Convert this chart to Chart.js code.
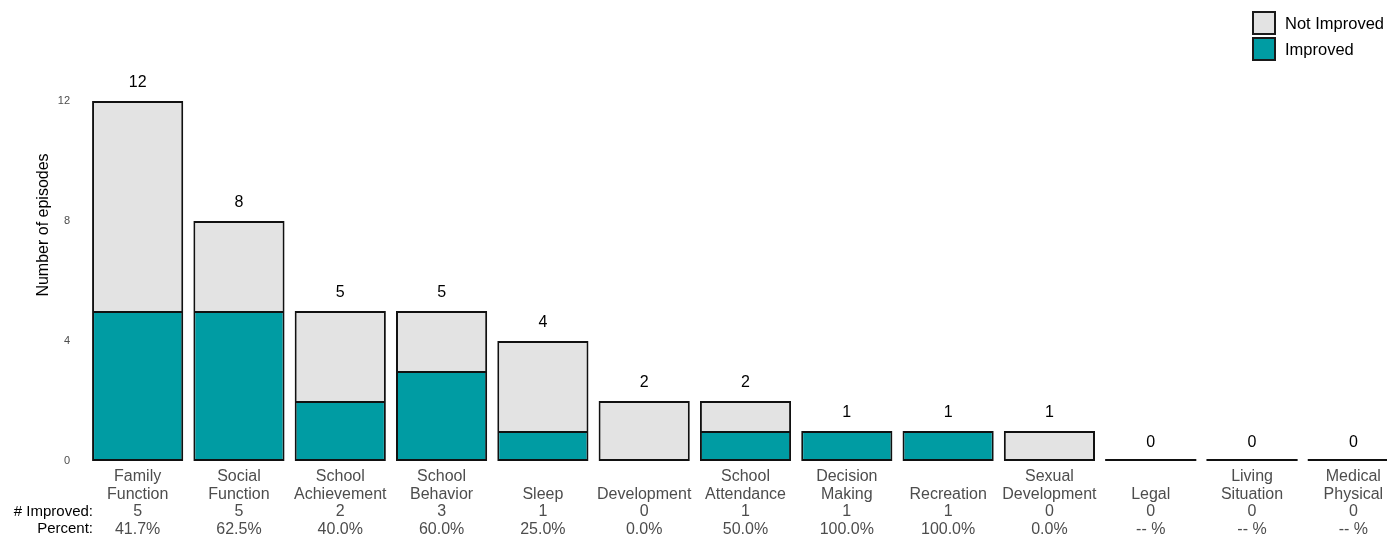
<!DOCTYPE html>
<html>
<head>
<meta charset="utf-8">
<script src="https://cdn.jsdelivr.net/npm/chart.js@4.4.1/dist/chart.umd.min.js"></script>
<style>
  html, body { margin: 0; padding: 0; background: #fff; overflow: hidden; width: 1387px; height: 540px; }
  #wrap { position: absolute; left: 0; top: 0; width: 1410px; height: 540px; }
  #legend { position: absolute; left: 1252px; top: 10px; font-family: "Liberation Sans", Arial, sans-serif; font-size: 16.5px; color: #000; white-space: nowrap; }
  .item { display: flex; align-items: center; height: 26px; }
  .box { width: 20px; height: 20px; border: 2px solid #1a1a1a; margin-right: 9px; }
</style>
</head>
<body>
<div id="wrap"><canvas id="c"></canvas></div>
<div id="legend">
  <div class="item"><div class="box" style="background:#e3e3e3"></div><span>Not Improved</span></div>
  <div class="item"><div class="box" style="background:#009ca3"></div><span>Improved</span></div>
</div>
<script>
const categories = [
  ["Family", "Function"], ["Social", "Function"], ["School", "Achievement"], ["School", "Behavior"],
  ["Sleep"], ["Development"], ["School", "Attendance"], ["Decision", "Making"], ["Recreation"],
  ["Sexual", "Development"], ["Legal"], ["Living", "Situation"], ["Medical", "Physical"]
];
const improved    = [5, 5, 2, 3, 1, 0, 1, 1, 1, 0, 0, 0, 0];
const notImproved = [7, 3, 3, 2, 3, 2, 1, 0, 0, 1, 0, 0, 0];
const yTicks = [0, 4, 8, 12];
const rowLabels = ["# Improved:", "Percent:"];
const yTitle = "Number of episodes";

const totals = improved.map((v, i) => v + notImproved[i]);
const percents = improved.map((v, i) => totals[i] === 0 ? "-- %" : (100 * v / totals[i]).toFixed(1) + "%");
const labels = categories.map((c, i) => {
  const name = c.length === 1 ? ["", c[0]] : c;
  return [...name, String(improved[i]), percents[i]];
});

const FONT = '"Liberation Sans", Arial, sans-serif';

const extras = {
  id: 'extras',
  afterDatasetsDraw(chart) {
    const ctx = chart.ctx;
    const y = chart.scales.y, x = chart.scales.x;
    const meta = chart.getDatasetMeta(1);
    ctx.save();
    ctx.fillStyle = '#000';
    ctx.font = '16px ' + FONT;
    ctx.textAlign = 'center';
    ctx.textBaseline = 'middle';
    totals.forEach((t, i) => {
      const el = meta.data[i];
      ctx.fillText(String(t), el.x, y.getPixelForValue(t) - 18);
      if (t === 0) {
        ctx.strokeStyle = '#111';
        ctx.lineWidth = 2;
        ctx.beginPath();
        ctx.moveTo(el.x - el.width / 2, y.getPixelForValue(0) - 1);
        ctx.lineTo(el.x + el.width / 2, y.getPixelForValue(0) - 1);
        ctx.stroke();
      }
    });
    ctx.font = '15px ' + FONT;
    ctx.textAlign = 'right';
    const lh = 17.5;
    const top = x.top + 7;
    ctx.fillText(rowLabels[0], chart.chartArea.left + 6, top + lh * 2.5);
    ctx.fillText(rowLabels[1], chart.chartArea.left + 6, top + lh * 3.5);
    ctx.translate(44, 225);
    ctx.rotate(-Math.PI / 2);
    ctx.textAlign = 'center';
    ctx.font = '16px ' + FONT;
    ctx.fillText(yTitle, 0, 0);
    ctx.restore();
  }
};

new Chart(document.getElementById('c'), {
  type: 'bar',
  data: {
    labels: labels,
    datasets: [
      { label: 'Improved', data: improved, backgroundColor: '#009ca3', borderColor: '#111', borderWidth: 2, borderSkipped: false },
      { label: 'Not Improved', data: notImproved, backgroundColor: '#e3e3e3', borderColor: '#111',
        borderWidth: (c) => ({ top: 2, left: 2, right: 2, bottom: improved[c.dataIndex] > 0 ? 0 : 2 }),
        borderSkipped: false }
    ]
  },
  options: {
    responsive: true,
    maintainAspectRatio: false,
    animation: false,
    layout: { padding: { top: 101, right: 6, bottom: 0, left: 0 } },
    datasets: { bar: { categoryPercentage: 1.0, barPercentage: 0.9 } },
    plugins: { legend: { display: false }, tooltip: { enabled: false } },
    scales: {
      x: {
        stacked: true,
        grid: { display: false, drawTicks: false },
        border: { display: false },
        ticks: { color: '#4d4d4d', font: { family: FONT, size: 16, lineHeight: 1.094 }, padding: 7, maxRotation: 0, autoSkip: false },
        afterFit(s) { s.height = 79; }
      },
      y: {
        stacked: true,
        min: 0, max: 12,
        grid: { display: false, drawTicks: false },
        border: { display: false },
        afterBuildTicks(s) { s.ticks = yTicks.map(v => ({ value: v })); },
        ticks: { color: '#4d4d4d', font: { family: FONT, size: 11 }, padding: 17 },
        afterFit(s) { s.width = 87; }
      }
    }
  },
  plugins: [extras]
});
</script>
</body>
</html>
